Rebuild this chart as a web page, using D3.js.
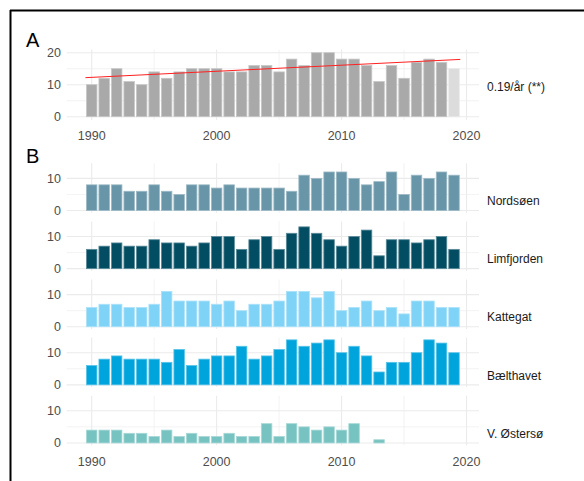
<!DOCTYPE html>
<html>
<head>
<meta charset="utf-8">
<script src="https://cdn.jsdelivr.net/npm/d3@7"></script>
<style>
  html, body { margin: 0; padding: 0; background: #fff; }
  svg { display: block; font-family: "Liberation Sans", Arial, sans-serif; }
</style>
</head>
<body>
<svg id="chart" width="584" height="481"></svg>
<script>
// Years covered by every series
const years = d3.range(1990, 2020);

// Panel A: total counts per year (last year provisional, drawn lighter)
const totalValues = [10, 12, 15, 11, 10, 14, 12, 14, 15, 15, 15, 14, 14, 16, 16, 14, 18, 16, 20, 20, 18, 18, 16, 11, 16, 12, 17, 18, 17, 15];
const provisionalYear = 2019;
const trendSlope = 0.19;       // per year
const trendStartValue = 12.2;  // fitted value at the start of the line
const trendRange = [1989.5, 2019.5];
const trendLabel = "0.19/år (**)";

// Panel B: counts per region
const regionNames = ["Nordsøen", "Limfjorden", "Kattegat", "Bælthavet", "V. Østersø"];
const nordsoen   = [8, 8, 8, 6, 6, 8, 6, 5, 8, 8, 7, 8, 7, 7, 7, 7, 6, 11, 10, 12, 12, 10, 8, 9, 12, 5, 11, 10, 12, 11];
const limfjorden = [6, 7, 8, 7, 7, 9, 8, 8, 7, 8, 10, 10, 6, 9, 10, 6, 11, 13, 11, 9, 7, 10, 12, 4, 9, 9, 8, 9, 10, 6];
const kattegat   = [6, 7, 7, 6, 6, 7, 11, 8, 8, 8, 7, 8, 5, 7, 7, 8, 11, 11, 9, 11, 5, 6, 8, 5, 6, 4, 8, 8, 6, 6];
const baelthavet = [6, 8, 9, 8, 8, 8, 7, 11, 6, 8, 9, 9, 12, 8, 9, 11, 14, 12, 13, 14, 10, 12, 9, 4, 7, 7, 10, 14, 13, 10];
const oestersoe  = [4, 4, 4, 3, 3, 2, 4, 2, 3, 2, 2, 3, 2, 2, 6, 2, 6, 5, 4, 5, 4, 6, null, 1, null, null, null, null, null, null];
const regionValues = [nordsoen, limfjorden, kattegat, baelthavet, oestersoe];
const regionColors = ["#6895a8", "#024d62", "#7fd3f6", "#00a4dc", "#77c3c1"];

const xTicks = [1990, 2000, 2010, 2020];
const xMinor = [1995, 2005, 2015];

const svg = d3.select("#chart");
const gridColor = "#ebebeb";
const tickColor = "#4d4d4d";

const left = 66.7, right = 479;
const x = d3.scaleLinear().domain([1988, 2021]).range([left, right]);
const barHalf = 0.42;

function lighten(c, k) {
  return d3.interpolateRgb(c, "#ffffff")(k);
}

function drawPanel(g, y, yMajor, yMinor) {
  const [y0, y1] = y.range();
  g.append("g").selectAll("line.ymin").data(yMinor).join("line")
    .attr("x1", left).attr("x2", right)
    .attr("y1", d => y(d)).attr("y2", d => y(d))
    .attr("stroke", gridColor).attr("stroke-width", 0.6);
  g.append("g").selectAll("line.xmin").data(xMinor).join("line")
    .attr("x1", d => x(d)).attr("x2", d => x(d))
    .attr("y1", y0).attr("y2", y1)
    .attr("stroke", gridColor).attr("stroke-width", 0.6);
  g.append("g").selectAll("line.ymaj").data(yMajor).join("line")
    .attr("x1", left).attr("x2", right)
    .attr("y1", d => y(d)).attr("y2", d => y(d))
    .attr("stroke", gridColor).attr("stroke-width", 1.1);
  g.append("g").selectAll("line.xmaj").data(xTicks).join("line")
    .attr("x1", d => x(d)).attr("x2", d => x(d))
    .attr("y1", y0).attr("y2", y1)
    .attr("stroke", gridColor).attr("stroke-width", 1.1);
  g.append("g").selectAll("text").data(yMajor).join("text")
    .attr("x", 61).attr("y", d => y(d))
    .attr("dy", "0.36em")
    .attr("text-anchor", "end")
    .attr("font-size", 12.5)
    .attr("fill", tickColor)
    .text(d => d);
}

function drawBars(g, y, values, colorFn) {
  const data = years.map((yr, i) => ({ yr, v: values[i] })).filter(d => d.v != null);
  g.append("g").selectAll("rect").data(data).join("rect")
    .attr("x", d => x(d.yr - barHalf))
    .attr("width", d => x(d.yr + barHalf) - x(d.yr - barHalf))
    .attr("y", d => y(d.v))
    .attr("height", d => y(0) - y(d.v))
    .attr("fill", d => colorFn(d))
    .attr("stroke", d => lighten(colorFn(d), 0.35))
    .attr("stroke-width", 0.8);
}

function drawXAxis(g, yPos) {
  g.append("g").selectAll("text").data(xTicks).join("text")
    .attr("x", d => x(d)).attr("y", yPos)
    .attr("dy", "0.36em")
    .attr("text-anchor", "middle")
    .attr("font-size", 12.5)
    .attr("fill", tickColor)
    .text(d => d);
}

// ---- Panel A ----
const yA = d3.scaleLinear().domain([-1, 21]).range([119.9, 49.5]);
const gA = svg.append("g");
drawPanel(gA, yA, [0, 10, 20], [5, 15]);
drawBars(gA, yA, totalValues, d => d.yr === provisionalYear ? "#dcdcdc" : "#a9a9a9");
gA.append("line")
  .attr("x1", x(trendRange[0])).attr("y1", yA(trendStartValue))
  .attr("x2", x(trendRange[1])).attr("y2", yA(trendStartValue + trendSlope * (trendRange[1] - trendRange[0])))
  .attr("stroke", "#ff2020").attr("stroke-width", 1);
drawXAxis(gA, 135.8);
gA.append("text")
  .attr("x", 487).attr("y", yA(9.5)).attr("dy", "0.36em")
  .attr("font-size", 12).attr("fill", "#1a1a1a")
  .text(trendLabel);
svg.append("text").attr("x", 26).attr("y", 47)
  .attr("font-size", 20).attr("fill", "#000").text("A");

// ---- Panel B: one facet per region ----
const facetTop = 163.3, facetHeight = 49.5, facetStep = 58.1;
regionNames.forEach((name, i) => {
  const top = facetTop + i * facetStep;
  const y = d3.scaleLinear().domain([-0.7, 14.7]).range([top + facetHeight, top]);
  const g = svg.append("g");
  drawPanel(g, y, [0, 10], [5]);
  drawBars(g, y, regionValues[i], () => regionColors[i]);
  g.append("text")
    .attr("x", 487).attr("y", y(3)).attr("dy", "0.36em")
    .attr("font-size", 12).attr("fill", "#1a1a1a")
    .text(name);
  if (i === regionNames.length - 1) drawXAxis(g, top + facetHeight + 16.5);
});
svg.append("text").attr("x", 26).attr("y", 163)
  .attr("font-size", 20).attr("fill", "#000").text("B");

// Frame lines along the top and left edge
svg.append("line").attr("x1", 10).attr("x2", 584).attr("y1", 10.5).attr("y2", 10.5)
  .attr("stroke", "#000").attr("stroke-width", 2);
svg.append("line").attr("x1", 10.5).attr("x2", 10.5).attr("y1", 10).attr("y2", 481)
  .attr("stroke", "#000").attr("stroke-width", 2);
</script>
</body>
</html>
